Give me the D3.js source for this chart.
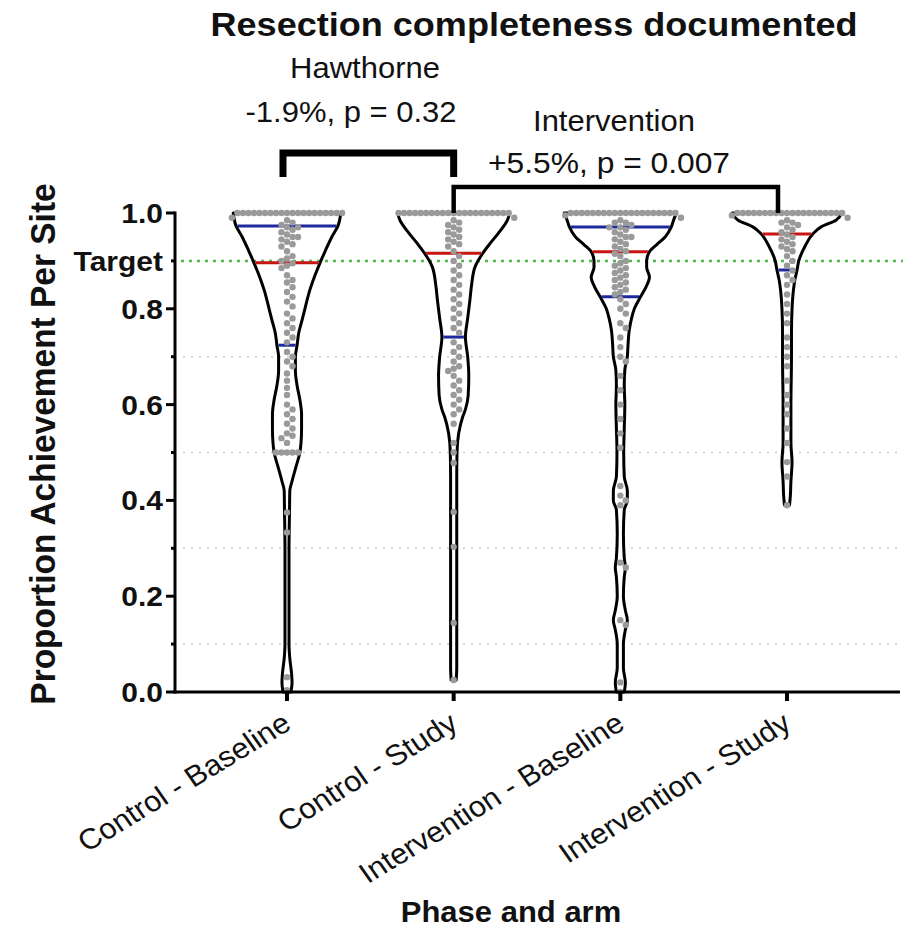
<!DOCTYPE html>
<html><head><meta charset="utf-8">
<script src="https://cdn.jsdelivr.net/npm/d3@7"></script>
<style>
html,body{margin:0;padding:0;background:#fff;}
svg{display:block;}
text{font-family:"Liberation Sans",Arial,Helvetica,sans-serif;fill:#111;}
</style></head>
<body>
<svg id="chart" width="903" height="939"></svg>
<script>
// ---------- DATA ----------
const categories = ["Control - Baseline","Control - Study","Intervention - Baseline","Intervention - Study"];

const yTicks = [0,0.2,0.4,0.6,0.8,1.0];
const yMinorTicks = [0.1,0.3,0.5,0.7];
const targetValue = 0.9;
const targetLabel = "Target";

// violin outlines: [value, relative density]
const violinControlBaseline = [[1.0,.96],[0.973,.91],[0.95,.80],[0.92,.68],[0.896,.59],[0.87,.50],[0.84,.41],[0.80,.32],[0.777,.27],[0.75,.21],[0.724,.18],[0.70,.15],[0.67,.15],[0.64,.18],[0.61,.23],[0.58,.26],[0.55,.26],[0.52,.25],[0.50,.23],[0.47,.16],[0.44,.09],[0.42,.05],[0.38,.045],[0.30,.036],[0.10,.036],[0.07,.05],[0.04,.08],[0.02,.09],[0.0,.07]];
const violinControlStudy = [[1.0,1.0],[0.985,.96],[0.958,.80],[0.935,.64],[0.916,.52],[0.887,.38],[0.85,.32],[0.818,.29],[0.78,.25],[0.741,.21],[0.70,.25],[0.66,.27],[0.62,.26],[0.59,.21],[0.574,.16],[0.54,.09],[0.50,.06],[0.45,.055],[0.05,.055],[0.025,.045]];
const violinInterventionBaseline = [[1.0,1.0],[0.985,.95],[0.971,.91],[0.95,.80],[0.935,.66],[0.919,.52],[0.90,.47],[0.887,.47],[0.866,.52],[0.846,.46],[0.825,.36],[0.80,.25],[0.78,.20],[0.756,.16],[0.72,.135],[0.70,.125],[0.672,.08],[0.64,.07],[0.60,.08],[0.55,.07],[0.50,.06],[0.45,.07],[0.42,.125],[0.40,.125],[0.38,.07],[0.33,.055],[0.28,.07],[0.26,.09],[0.24,.07],[0.20,.055],[0.17,.09],[0.15,.125],[0.13,.09],[0.10,.055],[0.05,.055],[0.02,.09],[0.0,.07]];
const violinInterventionStudy = [[1.0,.98],[0.985,.875],[0.971,.61],[0.956,.46],[0.93,.32],[0.90,.21],[0.881,.18],[0.86,.14],[0.84,.116],[0.80,.09],[0.75,.08],[0.70,.08],[0.60,.07],[0.52,.07],[0.48,.09],[0.44,.07],[0.41,.06],[0.39,.045]];

// medians and quartiles
const medians = [0.896, 0.916, 0.919, 0.956];
const quartile1 = [0.724, 0.741, 0.825, 0.881];
const quartile3 = [0.973, 1.0, 0.971, 1.0];

// site proportions (gray dots)
const pointsControlBaseline = [1,1,1,1,1,1,1,1,1,1,1,1,1,1,1,1,1,1,1,1,
 0.99,0.985,0.98,0.975,0.97,0.97,0.965,0.96,0.955,0.95,0.95,0.945,0.94,0.935,0.93,
 0.92,0.91,0.905,0.90,0.895,0.89,0.885,
 0.87,0.86,0.855,0.845,0.835,0.825,0.815,0.805,
 0.79,0.78,0.77,0.76,0.75,0.74,0.73,
 0.71,0.70,0.69,0.68,0.665,0.65,0.635,0.62,
 0.60,0.59,0.58,0.57,0.56,0.55,0.54,0.535,0.53,0.52,
 0.50,0.50,0.50,0.50,0.50,
 0.375,0.333,0.031,0.004];
const pointsControlStudy = [1,1,1,1,1,1,1,1,1,1,1,1,1,1,1,1,1,1,1,1,1,
 0.99,0.985,0.98,0.975,0.97,0.965,0.96,0.955,0.95,0.945,0.94,0.935,0.93,
 0.92,0.91,0.90,0.89,0.88,
 0.87,0.86,0.85,0.84,0.83,0.82,0.81,0.80,
 0.79,0.78,0.77,0.76,0.75,
 0.73,0.72,0.71,0.70,0.69,0.68,0.675,0.67,0.66,0.65,0.64,0.63,0.62,
 0.61,0.60,0.59,0.58,0.56,
 0.52,0.50,0.478,0.376,0.303,0.144,0.025];
const pointsInterventionBaseline = [1,1,1,1,1,1,1,1,1,1,1,1,1,1,1,1,1,1,1,1,
 0.995,0.99,0.985,0.98,0.98,0.975,0.97,0.97,0.965,0.96,0.955,0.95,0.95,0.945,0.94,0.935,
 0.93,0.925,0.92,0.915,0.91,0.90,0.895,
 0.89,0.885,0.88,0.875,0.87,0.865,0.86,0.855,0.85,0.845,0.84,0.835,0.83,
 0.82,0.81,0.80,0.79,
 0.77,0.76,0.74,0.72,0.70,0.69,
 0.66,0.63,0.60,0.57,0.54,0.51,
 0.43,0.41,0.40,0.39,0.27,0.26,0.15,0.14,0.02,0.0];
const pointsInterventionStudy = [1,1,1,1,1,1,1,1,1,1,1,1,1,1,1,1,1,1,1,1,
 0.995,0.99,0.985,0.98,0.98,0.975,0.97,0.965,0.96,0.955,0.95,0.945,
 0.94,0.935,0.93,0.925,0.92,0.91,0.90,0.89,
 0.88,0.87,0.86,0.85,0.83,0.81,
 0.79,0.77,0.74,0.72,0.70,0.68,
 0.65,0.62,0.60,0.58,0.55,0.52,
 0.48,0.45,0.39];

const violins = [violinControlBaseline, violinControlStudy, violinInterventionBaseline, violinInterventionStudy];
const points = [pointsControlBaseline, pointsControlStudy, pointsInterventionBaseline, pointsInterventionStudy];

// comparisons
const comparisonFrom = [0, 1];
const comparisonTo = [1, 3];
const comparisonName = ["Hawthorne", "Intervention"];
const comparisonStat = ["-1.9%, p = 0.32", "+5.5%, p = 0.007"];

const titleText = "Resection completeness documented";
const yTitle = "Proportion Achievement Per Site";
const xTitle = "Phase and arm";

// ---------- DRAW ----------
const svg = d3.select("#chart");
const SQ = 0.93; // vertical squash of text
const FONT = '"Liberation Sans",Arial,Helvetica,sans-serif';

const y = d3.scaleLinear().domain([0,1]).range([692,213]);
const x = d3.scalePoint().domain(categories).range([287,787]);
const w = d3.scaleLinear().domain([0,1]).range([0,56]);

function txt(str, tx, ty, opts) {
  const t = svg.append("text")
    .attr("transform", `translate(${tx},${ty}) scale(1,${SQ})` + (opts.rotate ? ` rotate(${opts.rotate})` : ""))
    .attr("text-anchor", opts.anchor || "middle")
    .attr("font-size", opts.size)
    .attr("font-weight", opts.bold ? "bold" : "normal")
    .attr("font-family", FONT)
    .text(str);
  if (opts.len) t.attr("textLength", opts.len).attr("lengthAdjust","spacingAndGlyphs");
  return t;
}

// minor gridlines
svg.append("g").selectAll("line").data(yMinorTicks).join("line")
  .attr("x1",183).attr("x2",903)
  .attr("y1",d=>y(d)).attr("y2",d=>y(d))
  .attr("stroke","#c9c9c9").attr("stroke-width",1.5).attr("stroke-dasharray","2,6");

// target line
svg.append("line")
  .attr("x1",181).attr("x2",903).attr("y1",y(targetValue)).attr("y2",y(targetValue))
  .attr("stroke","#4fb84a").attr("stroke-width",2.5).attr("stroke-dasharray","3,5");

// violins
const area = d3.area()
  .y(d=>y(d[0]))
  .curve(d3.curveMonotoneY);
categories.forEach((c,i)=>{
  const cx = x(c);
  svg.append("path")
    .datum(violins[i])
    .attr("d", area.x0(d=>cx - w(d[1])).x1(d=>cx + w(d[1]))(violins[i]))
    .attr("fill","none").attr("stroke","#000").attr("stroke-width",3).attr("stroke-linejoin","round");
});

function halfWidthAt(prof, v) {
  for (let k=0;k<prof.length-1;k++){
    const a=prof[k], b=prof[k+1];
    if (v<=a[0] && v>=b[0]) {
      const t = (a[0]-v)/(a[0]-b[0]);
      return a[1] + t*(b[1]-a[1]);
    }
  }
  return prof[0][1];
}

// quartiles and medians
categories.forEach((c,i)=>{
  const cx = x(c);
  [[quartile3[i],"#1c2a9c"],[medians[i],"#c81414"],[quartile1[i],"#1c2a9c"]].forEach(([v,col])=>{
    if (v>=1) return;
    const hw = w(halfWidthAt(violins[i], v)) - 1.5;
    svg.append("line").attr("x1",cx-hw).attr("x2",cx+hw).attr("y1",y(v)).attr("y2",y(v))
      .attr("stroke",col).attr("stroke-width",3);
  });
});

// dots (simple beeswarm)
const R = 3.2, S = 5.8;
categories.forEach((c,i)=>{
  const cx = x(c);
  const vals = points[i].slice().sort((a,b)=>b-a);
  const placed = [];
  vals.forEach(v=>{
    const py = y(v);
    let off = 0;
    for (let k=0;k<200;k++){
      const cand = k===0 ? 0 : (k%2 ? 1 : -1) * Math.ceil(k/2) * (S*0.95);
      const ok = placed.every(p => (p[0]-cand)**2 + (p[1]-py)**2 >= S*S*0.85);
      if (ok) { off = cand; break; }
    }
    placed.push([off, py]);
  });
  svg.append("g").selectAll("circle").data(placed).join("circle")
    .attr("cx",d=>cx+d[0]).attr("cy",d=>d[1]).attr("r",R)
    .attr("fill","#9a9a9a");
});

// y axis
svg.append("line").attr("x1",175).attr("x2",175).attr("y1",y(1)-1.5).attr("y2",y(0)+1.5)
  .attr("stroke","#000").attr("stroke-width",3);
svg.append("g").selectAll("line").data(yTicks).join("line")
  .attr("x1",166).attr("x2",175).attr("y1",d=>y(d)).attr("y2",d=>y(d))
  .attr("stroke","#000").attr("stroke-width",3);
svg.append("g").selectAll("line").data(yMinorTicks.concat([targetValue])).join("line")
  .attr("x1",171).attr("x2",175).attr("y1",d=>y(d)).attr("y2",d=>y(d))
  .attr("stroke","#000").attr("stroke-width",3);
yTicks.forEach(t=>{
  txt(d3.format(".1f")(t), 163, y(t)+10, {anchor:"end", size:30, bold:true});
});
txt(targetLabel, 163, y(targetValue)+10, {anchor:"end", size:30, bold:true});

// x axis
svg.append("line").attr("x1",173.5).attr("x2",900).attr("y1",y(0)).attr("y2",y(0))
  .attr("stroke","#000").attr("stroke-width",3);
svg.append("g").selectAll("line").data(categories).join("line")
  .attr("x1",d=>x(d)).attr("x2",d=>x(d)).attr("y1",y(0)).attr("y2",y(0)+9)
  .attr("stroke","#000").attr("stroke-width",4);
categories.forEach(c=>{
  txt(c, x(c)+6, y(0)+36, {anchor:"end", size:31, rotate:-33});
});

// brackets
const bracketTop = [153, 187];
const bracketBottom = [177, 213];
const bracketWidth = [7, 4.5];
const bracketInset = [[-4,0],[0,-9]];
comparisonFrom.forEach((f,k)=>{
  const x1 = x(categories[f]) + bracketInset[k][0];
  const x2 = x(categories[comparisonTo[k]]) + bracketInset[k][1];
  svg.append("path")
    .attr("d", `M${x1},${bracketBottom[k]}V${bracketTop[k]}H${x2}V${bracketBottom[k]}`)
    .attr("fill","none").attr("stroke","#000").attr("stroke-width",bracketWidth[k]).attr("stroke-linejoin","miter");
});
txt(comparisonName[0], 365, 78, {size:31});
txt(comparisonStat[0], 351, 122, {size:31});
txt(comparisonName[1], 614, 131, {size:31});
txt(comparisonStat[1], 609, 173, {size:31, len:242});

// titles
txt(titleText, 534, 36, {size:36, bold:true, len:647});
txt(yTitle, 55, 444, {size:36, bold:true, rotate:-90});
txt(xTitle, 511, 922, {size:31, bold:true});
</script>
</body></html>
